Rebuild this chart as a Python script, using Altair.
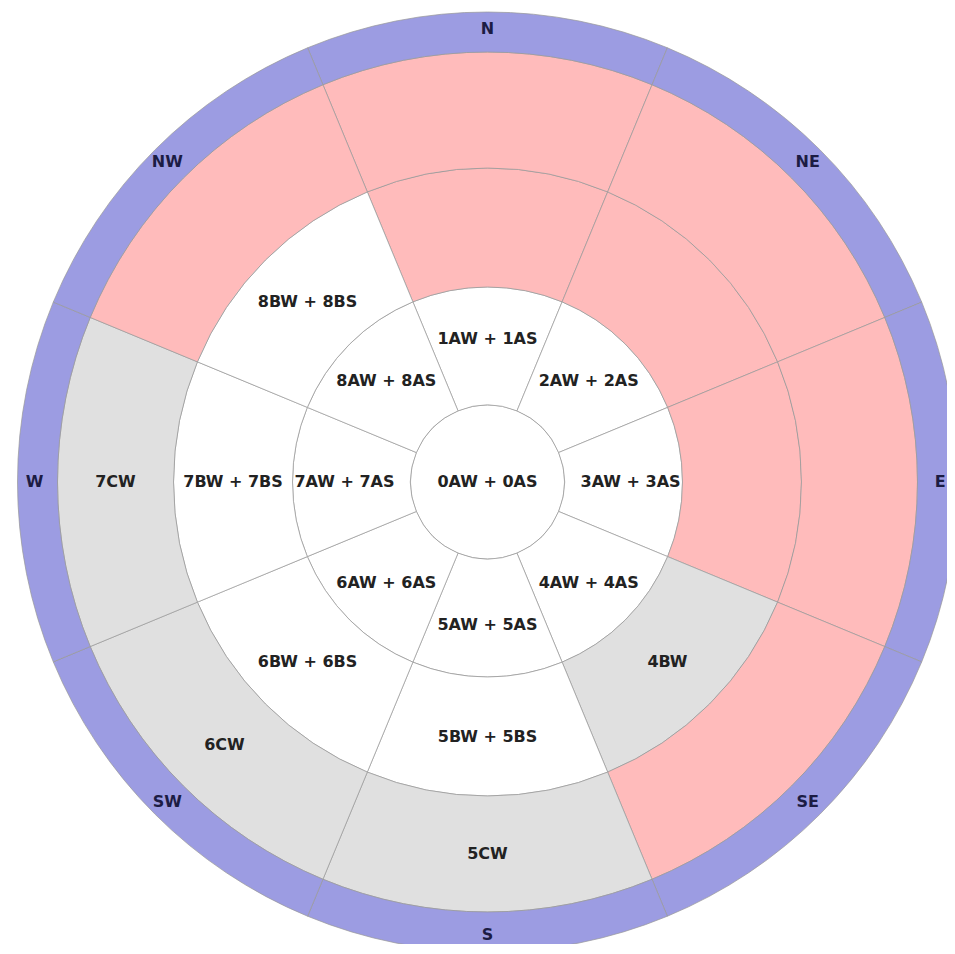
import math
import altair as alt
import pandas as pd

# ---- data -------------------------------------------------------------
compass = ["N", "NE", "E", "SE", "S", "SW", "W", "NW"]
sector_angle = [0, 45, 90, 135, 180, 225, 270, 315]  # sector centres, degrees clockwise from N

center_label = "0AW + 0AS"

ring_a_labels = ["1AW + 1AS", "2AW + 2AS", "3AW + 3AS", "4AW + 4AS",
                 "5AW + 5AS", "6AW + 6AS", "7AW + 7AS", "8AW + 8AS"]
ring_a_zone = ["white", "white", "white", "white", "white", "white", "white", "white"]

ring_b_labels = ["", "", "", "4BW", "5BW + 5BS", "6BW + 6BS", "7BW + 7BS", "8BW + 8BS"]
ring_b_zone = ["red", "red", "red", "grey", "white", "white", "white", "white"]

ring_c_labels = ["", "", "", "", "5CW", "6CW", "7CW", ""]
ring_c_zone = ["red", "red", "red", "red", "grey", "grey", "grey", "red"]

compass_zone = ["compass"] * 8

# ---- table ------------------------------------------------------------
rings = [
    (1, ring_a_labels, ring_a_zone, "ring"),
    (2, ring_b_labels, ring_b_zone, "ring"),
    (3, ring_c_labels, ring_c_zone, "ring"),
    (4, compass, compass_zone, "compass"),
]
label_level = {0: 0.0, 1: 1.56, 2: 2.5, 3: 3.5, 4: 4.57}

rows = [dict(t1=0, t2=360, angle=0, r1=0, r2=1, lr=label_level[0],
             zone="white", label=center_label, kind="ring")]
for ring, labels, zones, kind in rings:
    for a, lab, z in zip(sector_angle, labels, zones):
        rows.append(dict(t1=a - 22.5, t2=a + 22.5, angle=a, r1=ring, r2=ring + 1,
                         lr=label_level[ring], zone=z, label=lab, kind=kind))
df = pd.DataFrame(rows)

CX, CY = 479.5, 474

theta_scale = alt.Scale(domain=[0, 360], range=[0, 2 * math.pi], nice=False, zero=False)
radius_scale = alt.Scale(type="linear", domain=[0, 1, 2, 3, 4, 5],
                         range=[0, 77, 195, 314, 430, 470], nice=False, zero=False)

base = alt.Chart(df)

arcs = base.mark_arc(stroke="#999999", strokeWidth=0.9, strokeOpacity=0.8).encode(
    x=alt.value(CX), y=alt.value(CY),
    theta=alt.Theta("t1:Q", scale=theta_scale, stack=None),
    theta2="t2:Q",
    radius=alt.Radius("r1:Q", scale=radius_scale),
    radius2="r2:Q",
    color=alt.Color("zone:N", legend=None,
                    scale=alt.Scale(domain=["white", "red", "grey", "compass"],
                                    range=["#ffffff", "#ffbbbb", "#e0e0e0", "#9c9ce2"])),
)

ring_text = base.transform_filter("datum.kind == 'ring'").mark_text(
    font="DejaVu Sans", fontWeight="bold", fontSize=16, color="#222222",
    align="center", baseline="middle",
).encode(
    x=alt.value(CX), y=alt.value(CY),
    theta=alt.Theta("angle:Q", scale=theta_scale, stack=None),
    radius=alt.Radius("lr:Q", scale=radius_scale),
    text="label:N",
)

compass_text = base.transform_filter("datum.kind == 'compass'").mark_text(
    font="DejaVu Sans", fontWeight="bold", fontSize=16, color="#1c1c44",
    align="center", baseline="middle",
).encode(
    x=alt.value(CX), y=alt.value(CY),
    theta=alt.Theta("angle:Q", scale=theta_scale, stack=None),
    radius=alt.Radius("lr:Q", scale=radius_scale),
    text="label:N",
)

chart = alt.layer(arcs, ring_text, compass_text).properties(
    width=939, height=936,
    autosize=alt.AutoSizeParams(type="none"),
    padding=0,
).configure_view(stroke=None)

chart.save("out.html", embed_options={"renderer": "svg", "actions": False})
